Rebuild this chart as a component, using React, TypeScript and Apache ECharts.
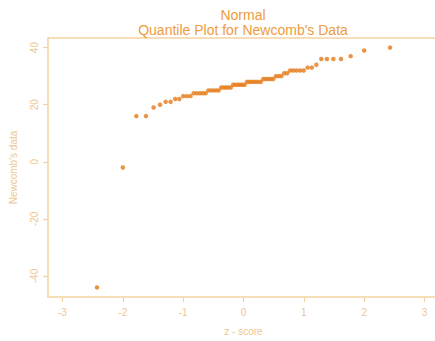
import React, { useEffect, useRef } from "react";
import * as echarts from "echarts";

// Newcomb's data, sorted
const newcombValues = [
  -44, -2, 16, 16, 19, 20, 21, 21, 22, 22,
  23, 23, 23, 24, 24, 24, 24, 24, 25, 25,
  25, 25, 25, 26, 26, 26, 26, 26, 27, 27,
  27, 27, 27, 27, 28, 28, 28, 28, 28, 28,
  28, 29, 29, 29, 29, 29, 30, 30, 30, 31,
  31, 32, 32, 32, 32, 32, 33, 33, 34, 36,
  36, 36, 36, 37, 39, 40,
];

// Normal theoretical quantiles (z-scores) for each sorted point
const zScores = [
  -2.428, -2.0, -1.776, -1.616, -1.49, -1.383, -1.29, -1.208, -1.132, -1.063,
  -0.998, -0.938, -0.88, -0.826, -0.773, -0.723, -0.674, -0.627, -0.582, -0.538,
  -0.494, -0.452, -0.41, -0.369, -0.328, -0.289, -0.249, -0.21, -0.171, -0.133,
  -0.095, -0.057, -0.019, 0.019, 0.057, 0.095, 0.133, 0.171, 0.21, 0.249,
  0.289, 0.328, 0.369, 0.41, 0.452, 0.494, 0.538, 0.582, 0.627, 0.674,
  0.723, 0.773, 0.826, 0.88, 0.938, 0.998, 1.063, 1.132, 1.208, 1.29,
  1.383, 1.49, 1.616, 1.776, 2.0, 2.428,
];

const xTicks = [-3, -2, -1, 0, 1, 2, 3];
const yTicks = [-40, -20, 0, 20, 40];

const titleLine1 = "Normal";
const titleLine2 = "Quantile Plot for Newcomb's Data";
const xName = "z - score";
const yName = "Newcomb's data";

const FONT = "Liberation Sans, Arial, sans-serif";
const AXIS_COLOR = "#f3d3a3";
const LABEL_COLOR = "#eec690";
const TITLE_COLOR = "#ee9c3c";
const POINT_COLOR = "#e57a16";

export default function App() {
  const ref = useRef<HTMLDivElement>(null);

  useEffect(() => {
    if (!ref.current) return;
    const chart = echarts.init(ref.current, undefined, { renderer: "svg" });
    const data = zScores.map((z, i) => [z, newcombValues[i]]);
    const lineStyle = { color: AXIS_COLOR, width: 1.5 };
    chart.setOption({
      animation: false,
      backgroundColor: "#ffffff",
      title: {
        text: titleLine1,
        subtext: titleLine2,
        left: 243,
        top: 8,
        padding: 0,
        itemGap: 1,
        textAlign: "center",
        textStyle: {
          fontFamily: FONT,
          fontSize: 14,
          fontWeight: "normal",
          color: TITLE_COLOR,
          lineHeight: 13,
        },
        subtextStyle: {
          fontFamily: FONT,
          fontSize: 14,
          color: TITLE_COLOR,
          lineHeight: 13,
        },
      },
      grid: {
        left: 46,
        top: 38,
        width: 393,
        height: 260,
        show: false,
      },
      xAxis: [
        {
          type: "value",
          position: "bottom",
          min: -3.24,
          max: 3.24,
          name: xName,
          nameLocation: "middle",
          nameGap: 29,
          nameTextStyle: { fontFamily: FONT, fontSize: 10, color: LABEL_COLOR },
          axisLine: { show: true, onZero: false, lineStyle },
          splitLine: { show: false },
          axisTick: {
            show: true,
            length: 5,
            customValues: xTicks,
            lineStyle: { color: AXIS_COLOR, width: 1.2 },
          },
          axisLabel: {
            customValues: xTicks,
            margin: 10,
            fontFamily: FONT,
            fontSize: 10,
            color: LABEL_COLOR,
          },
        },
        {
          type: "value",
          position: "top",
          min: -3.24,
          max: 3.24,
          axisLine: { show: true, onZero: false, lineStyle },
          axisTick: { show: false },
          axisLabel: { show: false },
          splitLine: { show: false },
        },
      ],
      yAxis: {
        type: "value",
        min: -47.36,
        max: 43.36,
        name: yName,
        nameLocation: "middle",
        nameRotate: 90,
        nameGap: 30,
        nameTextStyle: { fontFamily: FONT, fontSize: 10, color: LABEL_COLOR },
        axisLine: { show: true, onZero: false, lineStyle },
        splitLine: { show: false },
        axisTick: {
          show: true,
          length: 5,
          customValues: yTicks,
          lineStyle: { color: AXIS_COLOR, width: 1.2 },
        },
        axisLabel: {
          customValues: yTicks,
          rotate: 90,
          margin: 9,
          fontFamily: FONT,
          fontSize: 10,
          color: LABEL_COLOR,
        },
      },
      series: [
        {
          type: "scatter",
          data,
          xAxisIndex: 0,
          symbol: "circle",
          symbolSize: 4.5,
          itemStyle: { color: POINT_COLOR },
        },
      ],
    });
    return () => chart.dispose();
  }, []);

  return (
    <div
      style={{
        position: "absolute",
        left: 0,
        top: 0,
        width: 435,
        height: 341,
        overflow: "hidden",
      }}
    >
      <div ref={ref} style={{ width: 445, height: 341 }} />
    </div>
  );
}
